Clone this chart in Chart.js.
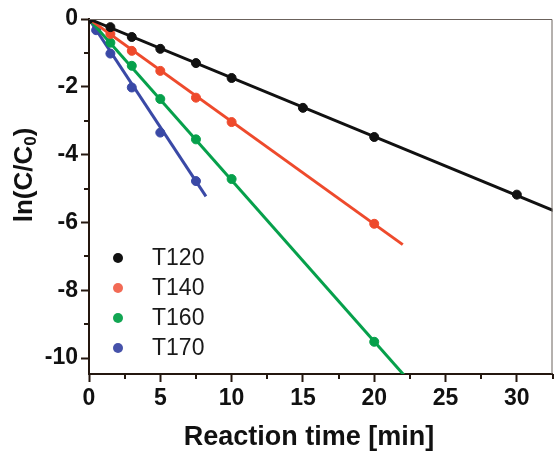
<!DOCTYPE html>
<html>
<head>
<meta charset="utf-8">
<script src="https://cdn.jsdelivr.net/npm/chart.js@4"></script>
<style>
  body { margin: 0; background: #fff; }
</style>
</head>
<body>
<canvas id="chart" width="558" height="452"></canvas>
<script>
// series names and colours
const seriesNames = ["T120", "T140", "T160", "T170"];
const seriesColors = ["#111111", "#ee4a2c", "#06a04b", "#3a49a6"];
const legendColors = ["#111111", "#f26a55", "#12a653", "#4652aa"];

// measured points, ln(C/C0) vs reaction time [min]
const timeT120 = [0, 1.5, 3, 5, 7.5, 10, 15, 20, 30];
const lnT120 = [0, -0.24, -0.53, -0.88, -1.30, -1.74, -2.62, -3.48, -5.18];
const timeT140 = [0, 1.5, 3, 5, 7.5, 10, 20];
const lnT140 = [0, -0.44, -0.94, -1.53, -2.32, -3.04, -6.04];
const timeT160 = [0, 1.5, 3, 5, 7.5, 10, 20];
const lnT160 = [0, -0.70, -1.38, -2.36, -3.55, -4.72, -9.52];
const timeT170 = [0, 0.5, 1.5, 3, 5, 7.5];
const lnT170 = [0, -0.33, -1.02, -2.02, -3.35, -4.78];

// linear fits (through origin): slope and where the drawn line stops
const fitSlopes = [-0.1735, -0.3025, -0.4755, -0.638];
const fitEnds = [33, 22, 22.5, 8.2];

// tick labels
const xTicks = [0, 5, 10, 15, 20, 25, 30];
const yTicks = [0, -2, -4, -6, -8, -10];
const xMinorTicks = [2.5, 7.5, 12.5, 17.5, 22.5, 27.5, 32.5];
const yMinorTicks = [-1, -3, -5, -7, -9];

const times = [timeT120, timeT140, timeT160, timeT170];
const values = [lnT120, lnT140, lnT160, lnT170];

const FONT = "'Liberation Sans', Arial, Helvetica, sans-serif";
const AXIS_COLOR = "#24170f";

const datasets = [];
seriesNames.forEach((name, i) => {
  datasets.push({
    label: name + " fit",
    data: [{ x: 0, y: 0 }, { x: fitEnds[i], y: fitSlopes[i] * fitEnds[i] }],
    borderColor: seriesColors[i],
    borderWidth: 3,
    pointRadius: 0,
    showLine: true,
    clip: 0,
  });
  datasets.push({
    label: name,
    data: times[i].map((t, k) => ({ x: t, y: values[i][k] })),
    borderColor: seriesColors[i],
    backgroundColor: seriesColors[i],
    pointRadius: 4.5,
    pointHoverRadius: 4.5,
    showLine: false,
  });
});

// minor ticks, frame, legend and axis titles
const decorations = {
  id: "decorations",
  afterDraw(chart) {
    const ctx = chart.ctx;
    const area = chart.chartArea;
    const xs = chart.scales.x;
    const ys = chart.scales.y;
    ctx.save();

    // thin top / right frame
    ctx.strokeStyle = "#6b625c";
    ctx.lineWidth = 1;
    ctx.beginPath();
    ctx.moveTo(area.left, area.top + 0.5);
    ctx.lineTo(area.right - 0.5, area.top + 0.5);
    ctx.lineTo(area.right - 0.5, area.bottom);
    ctx.stroke();

    // minor ticks
    ctx.strokeStyle = AXIS_COLOR;
    ctx.lineWidth = 2;
    ctx.beginPath();
    xMinorTicks.forEach((v) => {
      const px = Math.round(xs.getPixelForValue(v));
      ctx.moveTo(px, area.bottom);
      ctx.lineTo(px, area.bottom + 5);
    });
    yMinorTicks.forEach((v) => {
      const py = Math.round(ys.getPixelForValue(v));
      ctx.moveTo(area.left, py);
      ctx.lineTo(area.left - 5, py);
    });
    ctx.stroke();

    // legend inside plot
    ctx.font = "23px " + FONT;
    ctx.textBaseline = "middle";
    ctx.textAlign = "left";
    seriesNames.forEach((name, i) => {
      const y = area.top + 239 + i * 30;
      ctx.fillStyle = legendColors[i];
      ctx.beginPath();
      ctx.arc(area.left + 29, y, 5, 0, Math.PI * 2);
      ctx.fill();
      ctx.fillStyle = "#1a1a1a";
      ctx.fillText(name, area.left + 63, y + 1);
    });

    // x title
    ctx.fillStyle = "#111";
    ctx.font = "bold 27px " + FONT;
    ctx.textAlign = "center";
    ctx.textBaseline = "middle";
    ctx.fillText("Reaction time [min]", 309, 438);

    // y title with subscript
    ctx.translate(25, 175);
    ctx.rotate(-Math.PI / 2);
    const big = "bold 26px " + FONT;
    const small = "bold 17px " + FONT;
    ctx.font = big;
    const w1 = ctx.measureText("ln(C/C").width;
    const w3 = ctx.measureText(")").width;
    ctx.font = small;
    const w2 = ctx.measureText("0").width;
    let x = -(w1 + w2 + w3) / 2;
    ctx.textAlign = "left";
    ctx.font = big;
    ctx.fillText("ln(C/C", x, 0);
    x += w1;
    ctx.font = small;
    ctx.fillText("0", x, 6);
    x += w2;
    ctx.font = big;
    ctx.fillText(")", x, 0);

    ctx.restore();
  },
};

const tickFont = { family: FONT, size: 23, weight: "bold" };

new Chart(document.getElementById("chart"), {
  type: "scatter",
  data: { datasets },
  plugins: [decorations],
  options: {
    responsive: false,
    animation: false,
    events: [],
    layout: { padding: { top: 19, right: 1, left: 0, bottom: 0 } },
    plugins: {
      legend: { display: false },
      tooltip: { enabled: false },
    },
    scales: {
      x: {
        type: "linear",
        min: 0,
        max: 32.5,
        afterFit: (scale) => { scale.height = 78; },
        afterBuildTicks: (scale) => { scale.ticks = xTicks.map((v) => ({ value: v })); },
        border: { display: true, color: AXIS_COLOR, width: 2 },
        grid: {
          drawOnChartArea: false,
          drawTicks: true,
          tickLength: 8,
          tickWidth: 2,
          tickColor: AXIS_COLOR,
        },
        ticks: {
          autoSkip: false,
          maxRotation: 0,
          padding: 3,
          color: "#111",
          font: tickFont,
        },
      },
      y: {
        type: "linear",
        min: -10.47,
        max: 0,
        afterFit: (scale) => { scale.width = 89; },
        afterBuildTicks: (scale) => { scale.ticks = yTicks.map((v) => ({ value: v })); },
        border: { display: true, color: AXIS_COLOR, width: 2 },
        grid: {
          drawOnChartArea: false,
          drawTicks: true,
          tickLength: 8,
          tickWidth: 2,
          tickColor: AXIS_COLOR,
        },
        ticks: {
          autoSkip: false,
          padding: 3,
          color: "#111",
          font: tickFont,
        },
      },
    },
  },
});
</script>
</body>
</html>
